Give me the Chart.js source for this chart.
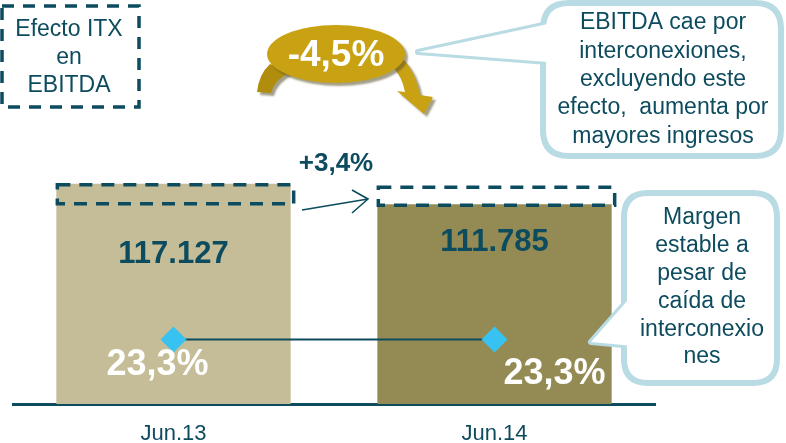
<!DOCTYPE html>
<html lang="es">
<head>
  <meta charset="UTF-8">
  <title>EBITDA Jun.13 vs Jun.14</title>
  <script src="https://cdn.jsdelivr.net/npm/chart.js"></script>
  <style>
    html, body { margin: 0; padding: 0; background: #fff; }
    canvas { display: block; }
  </style>
</head>
<body>
  <canvas id="ebitdaChart" width="786" height="443"></canvas>

  <script>
    // datos
    const periodos = ['Jun.13', 'Jun.14'];
    const ebitda = [117127, 111785];
    const margen = [23.3, 23.3];
    const variacionEbitda = '-4,5%';
    const variacionSinItx = '+3,4%';

    const TEAL = '#0d4b5e';
    const FONT = '"Liberation Sans", Arial, sans-serif';

    function fmtMiles(v) {
      return String(v).replace(/\B(?=(\d{3})+(?!\d))/g, '.');
    }
    function fmtPct(v) {
      return v.toFixed(1).replace('.', ',') + '%';
    }

    function roundRect(ctx, x, y, w, h, r) {
      ctx.beginPath();
      ctx.moveTo(x + r, y);
      ctx.lineTo(x + w - r, y);
      ctx.quadraticCurveTo(x + w, y, x + w, y + r);
      ctx.lineTo(x + w, y + h - r);
      ctx.quadraticCurveTo(x + w, y + h, x + w - r, y + h);
      ctx.lineTo(x + r, y + h);
      ctx.quadraticCurveTo(x, y + h, x, y + h - r);
      ctx.lineTo(x, y + r);
      ctx.quadraticCurveTo(x, y, x + r, y);
      ctx.closePath();
    }

    // burbuja con cola
    function bubble(ctx, x, y, w, h, r, tail) {
      ctx.save();
      ctx.lineWidth = 6;
      ctx.strokeStyle = '#b9dbe3';
      ctx.fillStyle = '#fff';
      ctx.lineJoin = 'round';
      ctx.beginPath();
      ctx.moveTo(tail[0][0], tail[0][1]);
      ctx.lineTo(tail[1][0], tail[1][1]);
      ctx.lineTo(tail[2][0], tail[2][1]);
      ctx.closePath();
      ctx.fill();
      ctx.stroke();
      roundRect(ctx, x, y, w, h, r);
      ctx.fill();
      ctx.stroke();
      // tapar la union de la cola
      ctx.beginPath();
      ctx.moveTo(tail[0][0], tail[0][1]);
      ctx.lineTo(tail[1][0], tail[1][1]);
      ctx.lineTo(tail[2][0], tail[2][1]);
      ctx.closePath();
      ctx.fill();
      ctx.restore();
    }

    function textLines(ctx, lines, cx, y0, step, font, color) {
      ctx.save();
      ctx.font = font;
      ctx.fillStyle = color;
      ctx.textAlign = 'center';
      ctx.textBaseline = 'middle';
      lines.forEach((l, i) => ctx.fillText(l, cx, y0 + i * step));
      ctx.restore();
    }

    const anotaciones = {
      id: 'anotaciones',
      afterDatasetsDraw(chart) {
        const ctx = chart.ctx;
        const puntos = chart.getDatasetMeta(0).data;
        const barras = chart.getDatasetMeta(1).data;

        // valores EBITDA
        ctx.save();
        ctx.font = 'bold 31px ' + FONT;
        ctx.fillStyle = TEAL;
        ctx.textAlign = 'center';
        ctx.textBaseline = 'middle';
        ctx.fillText(fmtMiles(ebitda[0]), barras[0].x, barras[0].y + 71);
        ctx.fillText(fmtMiles(ebitda[1]), barras[1].x, barras[1].y + 38);
        ctx.restore();

        // valores margen
        ctx.save();
        ctx.font = 'bold 36px ' + FONT;
        ctx.fillStyle = '#fff';
        ctx.textAlign = 'center';
        ctx.textBaseline = 'middle';
        ctx.fillText(fmtPct(margen[0]), puntos[0].x - 16, puntos[0].y + 26);
        ctx.fillText(fmtPct(margen[1]), puntos[1].x + 60, puntos[1].y + 35);
        ctx.restore();

        // cajas discontinuas sobre las barras
        ctx.save();
        ctx.strokeStyle = TEAL;
        ctx.lineWidth = 3.5;
        ctx.setLineDash([13, 9]);
        const b0 = barras[0], b1 = barras[1];
        ctx.strokeRect(b0.x - b0.width / 2 + 1, b0.y + 1, b0.width + 2, 19);
        ctx.strokeRect(b1.x - b1.width / 2 + 1, b1.y - 17, b1.width + 2, 18);
        ctx.restore();

        // +3,4% y flecha
        ctx.save();
        ctx.font = 'bold 26px ' + FONT;
        ctx.fillStyle = TEAL;
        ctx.textAlign = 'center';
        ctx.textBaseline = 'middle';
        ctx.fillText(variacionSinItx, 336, 164);
        ctx.strokeStyle = TEAL;
        ctx.lineWidth = 1.6;
        ctx.beginPath();
        ctx.moveTo(302, 210);
        ctx.lineTo(368, 199);
        ctx.moveTo(352, 190);
        ctx.lineTo(368, 199);
        ctx.lineTo(352, 213);
        ctx.stroke();
        ctx.restore();
      },
      afterDraw(chart) {
        const ctx = chart.ctx;

        // caja "Efecto ITX en EBITDA"
        ctx.save();
        ctx.strokeStyle = TEAL;
        ctx.lineWidth = 3.5;
        ctx.setLineDash([12, 9]);
        ctx.strokeRect(2, 6, 137, 101);
        ctx.restore();
        textLines(ctx, ['Efecto ITX', 'en', 'EBITDA'], 69, 30, 28, '23px ' + FONT, TEAL);

        // ovalo dorado con flecha circular
        ctx.save();
        ctx.shadowColor = 'rgba(90,80,40,0.55)';
        ctx.shadowOffsetX = 3;
        ctx.shadowOffsetY = 3;
        ctx.shadowBlur = 2;
        ctx.fillStyle = '#b08d0c';
        ctx.beginPath();
        ctx.moveTo(270, 64);
        ctx.quadraticCurveTo(259, 74, 257, 92);
        ctx.lineTo(271, 93);
        ctx.quadraticCurveTo(274, 80, 290, 72);
        ctx.closePath();
        ctx.fill();
        ctx.fillStyle = '#c9a213';
        ctx.beginPath();
        ctx.moveTo(392, 66);
        ctx.quadraticCurveTo(402, 76, 405, 92);
        ctx.lineTo(397, 91);
        ctx.lineTo(424, 114);
        ctx.lineTo(433, 97);
        ctx.lineTo(420, 95);
        ctx.quadraticCurveTo(416, 72, 402, 58);
        ctx.closePath();
        ctx.fill();
        ctx.beginPath();
        ctx.ellipse(336, 54, 69, 29, 0, 0, Math.PI * 2);
        ctx.fill();
        ctx.restore();
        ctx.save();
        ctx.font = 'bold 37px ' + FONT;
        ctx.fillStyle = '#fff';
        ctx.textAlign = 'center';
        ctx.textBaseline = 'middle';
        ctx.fillText(variacionEbitda, 336, 56);
        ctx.restore();

        // burbuja superior derecha
        bubble(ctx, 543, 3, 238, 153, 26, [[548, 24], [418, 52], [548, 62]]);
        textLines(ctx, ['EBITDA cae por', 'interconexiones,', 'excluyendo este', 'efecto,  aumenta por', 'mayores ingresos'],
          663, 23, 28.3, '23px ' + FONT, TEAL);

        // burbuja margen
        bubble(ctx, 624, 193, 153, 190, 24, [[628, 300], [591, 342], [634, 346]]);
        textLines(ctx, ['Margen', 'estable a', 'pesar de', 'caída de', 'interconexio', 'nes'],
          702, 218, 27.8, '23px ' + FONT, TEAL);
      }
    };

    new Chart(document.getElementById('ebitdaChart'), {
      data: {
        labels: periodos,
        datasets: [
          {
            type: 'line',
            label: 'Margen EBITDA',
            data: margen,
            yAxisID: 'y2',
            borderColor: TEAL,
            borderWidth: 2,
            pointStyle: 'rectRot',
            pointRadius: 13,
            pointBackgroundColor: '#38c2f2',
            pointBorderWidth: 0,
            order: 0
          },
          {
            type: 'bar',
            label: 'EBITDA',
            data: ebitda,
            backgroundColor: ['#c4bd97', '#948a54'],
            barPercentage: 0.73,
            categoryPercentage: 1,
            order: 1
          }
        ]
      },
      options: {
        responsive: false,
        animation: false,
        devicePixelRatio: 1,
        layout: { padding: { left: 10, right: 131, top: 10, bottom: 0 } },
        plugins: {
          legend: { display: false },
          tooltip: { enabled: false }
        },
        scales: {
          x: {
            grid: { display: false, drawTicks: false },
            border: { color: TEAL, width: 3 },
            ticks: { color: TEAL, font: { family: FONT, size: 22 }, padding: 17 },
            afterFit(scale) { scale.height = 39; }
          },
          y: { display: false, min: 60000, max: 161400 },
          y2: { display: false, min: 0, max: 141.2 }
        }
      },
      plugins: [anotaciones]
    });
  </script>
</body>
</html>
